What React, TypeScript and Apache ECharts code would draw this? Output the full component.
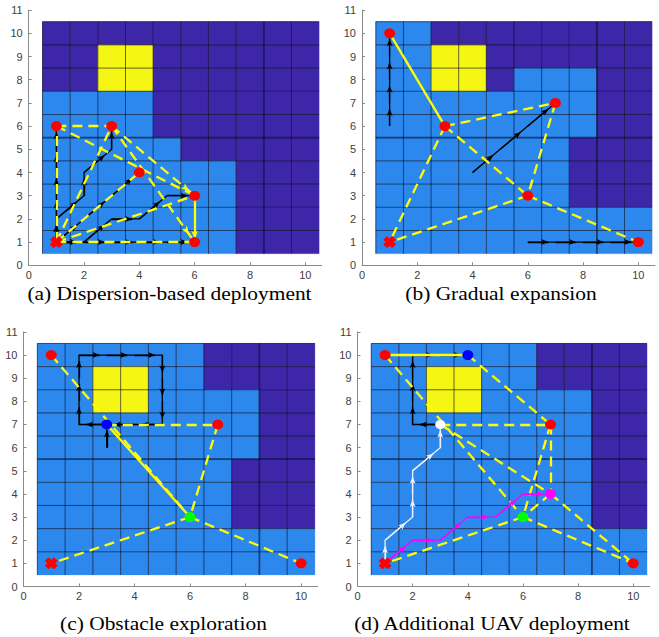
import React, { useEffect, useRef } from 'react';
import * as echarts from 'echarts';

// cell states: 0 = unexplored, 1 = explored, 2 = obstacle; rows from y=10 (top) down to y=1
const mapA = [
  [0, 0, 0, 0, 0, 0, 0, 0, 0, 0],
  [0, 0, 2, 2, 0, 0, 0, 0, 0, 0],
  [0, 0, 2, 2, 0, 0, 0, 0, 0, 0],
  [1, 1, 1, 1, 0, 0, 0, 0, 0, 0],
  [1, 1, 1, 1, 0, 0, 0, 0, 0, 0],
  [1, 1, 1, 1, 1, 0, 0, 0, 0, 0],
  [1, 1, 1, 1, 1, 1, 1, 0, 0, 0],
  [1, 1, 1, 1, 1, 1, 1, 0, 0, 0],
  [1, 1, 1, 1, 1, 1, 1, 0, 0, 0],
  [1, 1, 1, 1, 1, 1, 1, 0, 0, 0],
];
const mapB = [
  [1, 1, 0, 0, 0, 0, 0, 0, 0, 0],
  [1, 1, 2, 2, 0, 0, 0, 0, 0, 0],
  [1, 1, 2, 2, 0, 1, 1, 1, 0, 0],
  [1, 1, 1, 1, 1, 1, 1, 1, 0, 0],
  [1, 1, 1, 1, 1, 1, 1, 1, 0, 0],
  [1, 1, 1, 1, 1, 1, 1, 0, 0, 0],
  [1, 1, 1, 1, 1, 1, 1, 0, 0, 0],
  [1, 1, 1, 1, 1, 1, 1, 0, 0, 0],
  [1, 1, 1, 1, 1, 1, 1, 1, 1, 1],
  [1, 1, 1, 1, 1, 1, 1, 1, 1, 1],
];
const mapC = [
  [1, 1, 1, 1, 1, 1, 0, 0, 0, 0],
  [1, 1, 2, 2, 1, 1, 0, 0, 0, 0],
  [1, 1, 2, 2, 1, 1, 1, 1, 0, 0],
  [1, 1, 1, 1, 1, 1, 1, 1, 0, 0],
  [1, 1, 1, 1, 1, 1, 1, 1, 0, 0],
  [1, 1, 1, 1, 1, 1, 1, 0, 0, 0],
  [1, 1, 1, 1, 1, 1, 1, 0, 0, 0],
  [1, 1, 1, 1, 1, 1, 1, 0, 0, 0],
  [1, 1, 1, 1, 1, 1, 1, 1, 1, 1],
  [1, 1, 1, 1, 1, 1, 1, 1, 1, 1],
];
const mapD = [
  [1, 1, 1, 1, 1, 1, 0, 0, 0, 0],
  [1, 1, 2, 2, 1, 1, 0, 0, 0, 0],
  [1, 1, 2, 2, 1, 1, 1, 1, 0, 0],
  [1, 1, 1, 1, 1, 1, 1, 1, 0, 0],
  [1, 1, 1, 1, 1, 1, 1, 1, 0, 0],
  [1, 1, 1, 1, 1, 1, 1, 1, 0, 0],
  [1, 1, 1, 1, 1, 1, 1, 1, 0, 0],
  [1, 1, 1, 1, 1, 1, 1, 1, 0, 0],
  [1, 1, 1, 1, 1, 1, 1, 1, 1, 1],
  [1, 1, 1, 1, 1, 1, 1, 1, 1, 1],
];

// UAV positions
const baseA = [[1, 1]];
const redA = [[1, 6], [3, 6], [4, 4], [6, 3], [6, 1]];
const baseB = [[1, 1]];
const redB = [[1, 10], [3, 6], [7, 7], [6, 3], [10, 1]];
const baseC = [[1, 1]];
const redC = [[1, 10], [7, 7], [10, 1]];
const blueC = [[3, 7]];
const greenC = [[6, 3]];
const baseD = [[1, 1]];
const redD = [[1, 10], [7, 7], [10, 1]];
const blueD = [[4, 10]];
const whiteD = [[3, 7]];
const magentaD = [[7, 4]];
const greenD = [[6, 3]];

// communication links
const dashedA = [
  [[1, 1], [1, 6]], [[1, 1], [3, 6]], [[1, 1], [4, 4]], [[1, 1], [6, 3]], [[1, 1], [6, 1]],
  [[1, 6], [3, 6]], [[1, 6], [6, 3]], [[3, 6], [6, 3]], [[3, 6], [6, 1]],
];
const solidA = [[[6, 3], [6, 1]]];
const yArrowA = [[[3, 6], [6, 3]], [[3, 6], [6, 1]], [[6, 3], [6, 1]]];
const dashedB = [
  [[3, 6], [7, 7]], [[3, 6], [1, 1]], [[3, 6], [6, 3]], [[6, 3], [10, 1]], [[7, 7], [6, 3]], [[6, 3], [1, 1]],
];
const solidB = [[[1, 10], [3, 6]]];
const dashedC = [
  [[1, 10], [6, 3]], [[3, 7], [7, 7]], [[7, 7], [6, 3]], [[6, 3], [1, 1]], [[6, 3], [10, 1]],
];
const solidC = [[[3, 7], [6, 3]]];
const dashedD = [
  [[1, 10], [6, 3]], [[4, 10], [7, 7]], [[3, 7], [7, 7]], [[7, 7], [7, 4]], [[7, 7], [6, 3]],
  [[3, 7], [7, 4]], [[7, 4], [10, 1]], [[7, 4], [6, 3]], [[6, 3], [1, 1]], [[6, 3], [10, 1]],
];
const solidD = [[[1, 10], [4, 10]]];

// movement paths
const pathsA = [
  [[1, 1], [1, 2], [1, 3], [1, 4], [1, 5], [1, 6]],
  [[1, 1], [1, 2], [2, 3], [2, 4], [3, 5], [3, 6]],
  [[1, 1], [2, 2], [3, 3], [4, 4]],
  [[1, 1], [2, 1], [3, 2], [4, 2], [5, 3], [6, 3]],
  [[1, 1], [2, 1], [3, 1], [4, 1], [5, 1], [6, 1]],
];
const pathsB = [
  [[1, 6], [1, 7], [1, 8], [1, 9], [1, 10]],
  [[4, 4], [5, 5], [6, 6], [7, 7]],
  [[6, 1], [7, 1], [8, 1], [9, 1], [10, 1]],
];
const pathsC = [
  [[3, 6], [3, 7], [2, 7], [2, 8], [2, 9], [2, 10], [3, 10], [4, 10], [5, 10], [5, 9], [5, 8], [5, 7], [4, 7], [3, 7]],
];
const pathsD = [[[3, 7], [2, 7], [2, 8], [2, 9], [2, 10], [3, 10], [4, 10]]];
const whitePathD = [[1, 1], [1, 2], [2, 3], [2, 4], [2, 5], [3, 6], [3, 7]];
const magentaPathD = [[1, 1], [2, 2], [3, 2], [4, 3], [5, 3], [6, 4], [7, 4]];

const captions = [
  '(a) Dispersion-based deployment',
  '(b) Gradual expansion',
  '(c) Obstacle exploration',
  '(d) Additional UAV deployment',
];
const xTickValues = [0, 2, 4, 6, 8, 10];
const gridPositions = [0.5, 1.5, 2.5, 3.5, 4.5, 5.5, 6.5, 7.5, 8.5, 9.5, 10.5];

const CELL_COLORS = ['#3E26A8', '#2D88EE', '#F6F614'];
const YELLOW = '#FFFF00';
const X_PATH = 'path://M0,3 L3,0 L5,2 L7,0 L10,3 L8,5 L10,7 L7,10 L5,8 L3,10 L0,7 L2,5 Z';

const GRIDS = [
  { left: 28.7, top: 10.1, width: 293.2, height: 255.2 },
  { left: 362, top: 10.1, width: 292.9, height: 255.2 },
  { left: 23.5, top: 331.9, width: 294.2, height: 254.6 },
  { left: 357.5, top: 331.9, width: 292.3, height: 254.6 },
];
const CAPTION_POS = [
  [169.5, 294],
  [501, 294],
  [163.5, 624],
  [492, 624],
];

function cellData(map: number[][]) {
  const out: number[][] = [];
  map.forEach((row, r) => {
    row.forEach((v, c) => out.push([c + 1, 10 - r, v]));
  });
  return out;
}

function arrowSegs(path: number[][], f: number) {
  const out: any[] = [];
  for (let i = 0; i < path.length - 1; i++) {
    const p = path[i];
    const q = path[i + 1];
    out.push({ coords: [p, [p[0] + f * (q[0] - p[0]), p[1] + f * (q[1] - p[1])]] });
  }
  return out;
}

function panelSeries(i: number, p: any) {
  const ax = { xAxisIndex: i, yAxisIndex: i };
  const s: any[] = [];
  s.push({
    type: 'custom', ...ax, silent: true,
    data: cellData(p.map),
    encode: { x: 0, y: 1 },
    renderItem: (params: any, api: any) => {
      const x = api.value(0), y = api.value(1), v = api.value(2);
      const a = api.coord([x - 0.5, y + 0.5]);
      const b = api.coord([x + 0.5, y - 0.5]);
      return {
        type: 'rect',
        shape: { x: a[0], y: a[1], width: b[0] - a[0], height: b[1] - a[1] },
        style: { fill: CELL_COLORS[v], stroke: CELL_COLORS[v], lineWidth: 0.3 },
      };
    },
  });
  s.push({
    type: 'custom', ...ax, silent: true,
    data: gridPositions.map((k) => [k, k]),
    encode: { x: 0, y: 1 },
    renderItem: (params: any, api: any) => {
      const k = api.value(0);
      const v0 = api.coord([k, 0.5]), v1 = api.coord([k, 10.5]);
      const h0 = api.coord([0.5, k]), h1 = api.coord([10.5, k]);
      const children: any[] = [];
      if (k < 10.5) {
        children.push({
          type: 'line',
          shape: { x1: v0[0], y1: v0[1], x2: v1[0], y2: v1[1] },
          style: { stroke: 'rgba(5,10,30,0.62)', lineWidth: k === 8.5 ? 1.7 : 1 },
        });
      }
      if (k > 0.5) {
        children.push({
          type: 'line',
          shape: { x1: h0[0], y1: h0[1], x2: h1[0], y2: h1[1] },
          style: { stroke: 'rgba(5,10,30,0.62)', lineWidth: k === 5.5 ? 1.7 : 1 },
        });
      }
      return { type: 'group', children };
    },
  });
  const marker = (data: number[][], color: string, symbol = 'circle', size: any = [11, 10]) => ({
    type: 'scatter', ...ax, silent: true, data, symbol, symbolSize: size,
    itemStyle: { color, opacity: 1 },
  });
  s.push(marker(p.base, '#FF0000', X_PATH, [13, 12]));
  s.push(marker(p.red, '#FF0000'));
  (p.extra || []).forEach((e: any) => s.push(marker(e.data, e.color, 'circle', e.size || [11, 10])));

  const addPath = (pts: number[][], color: string) => {
    s.push({
      type: 'lines', ...ax, coordinateSystem: 'cartesian2d', polyline: true, silent: true,
      data: [{ coords: pts }], symbol: 'none',
      lineStyle: { color, width: 1.3, opacity: 1 },
    });
    s.push({
      type: 'lines', ...ax, coordinateSystem: 'cartesian2d', silent: true,
      data: arrowSegs(pts, 0.74), symbol: ['none', 'arrow'], symbolSize: [1, [4.5, 7]],
      lineStyle: { color, width: 1.3, opacity: 1 },
    });
  };
  p.paths.forEach((pts: number[][]) => addPath(pts, '#000000'));

  s.push({
    type: 'lines', ...ax, coordinateSystem: 'cartesian2d', silent: true,
    data: p.dashed.map((l: number[][]) => ({ coords: l })), symbol: 'none',
    lineStyle: { color: YELLOW, width: 2.3, type: [10, 6], opacity: 1 },
  });
  s.push({
    type: 'lines', ...ax, coordinateSystem: 'cartesian2d', silent: true,
    data: p.solid.map((l: number[][]) => ({ coords: l })), symbol: 'none',
    lineStyle: { color: YELLOW, width: 2.3, opacity: 1 },
  });
  if (p.yArrows) {
    s.push({
      type: 'lines', ...ax, coordinateSystem: 'cartesian2d', silent: true,
      data: p.yArrows.map((l: number[][]) => ({ coords: [
        [l[0][0] + 0.9 * (l[1][0] - l[0][0]), l[0][1] + 0.9 * (l[1][1] - l[0][1])],
        [l[0][0] + 0.93 * (l[1][0] - l[0][0]), l[0][1] + 0.93 * (l[1][1] - l[0][1])],
      ] })),
      symbol: ['none', 'arrow'], symbolSize: [1, [5, 8]],
      lineStyle: { color: YELLOW, width: 2, opacity: 1 },
    });
  }
  (p.colorPaths || []).forEach((cp: any) => addPath(cp.pts, cp.color));
  return s;
}

const panels = [
  { map: mapA, base: baseA, red: redA, dashed: dashedA, solid: solidA, yArrows: yArrowA, paths: pathsA },
  { map: mapB, base: baseB, red: redB, dashed: dashedB, solid: solidB, paths: pathsB },
  {
    map: mapC, base: baseC, red: redC, dashed: dashedC, solid: solidC, paths: pathsC,
    extra: [{ data: blueC, color: '#0000FF' }, { data: greenC, color: '#00FF00' }],
  },
  {
    map: mapD, base: baseD, red: redD, dashed: dashedD, solid: solidD, paths: pathsD,
    extra: [
      { data: blueD, color: '#0000FF' },
      { data: whiteD, color: '#FFFFFF', size: [10, 9] },
      { data: magentaD, color: '#FF00FF' },
      { data: greenD, color: '#00FF00' },
    ],
    colorPaths: [{ pts: whitePathD, color: '#EEF2FF' }, { pts: magentaPathD, color: '#FF00FF' }],
  },
];

export default function App() {
  const ref = useRef<HTMLDivElement>(null);
  useEffect(() => {
    if (!ref.current) return;
    const chart = echarts.init(ref.current, undefined, { renderer: 'svg' });
    const axisColor = '#8a8a8a';
    const labelStyle = { fontSize: 11, color: '#404040', fontFamily: '"Liberation Sans", Arial, sans-serif' };
    const option: any = {
      animation: false,
      backgroundColor: '#ffffff',
      grid: GRIDS.map((g) => ({ ...g, containLabel: false, outerBoundsMode: 'none' })),
      xAxis: GRIDS.map((g, i) => ({
        type: 'value', gridIndex: i, min: 0, max: 10.6, interval: 2,
        axisLine: { show: true, lineStyle: { color: axisColor, width: 1 } },
        axisTick: { show: true, inside: true, length: 3, customValues: xTickValues, lineStyle: { color: axisColor } },
        axisLabel: {
          ...labelStyle, margin: 4, customValues: xTickValues,
          formatter: (v: number) => (Number.isInteger(v) ? String(v) : ''),
        },
        splitLine: { show: false },
      })),
      yAxis: GRIDS.map((g, i) => ({
        type: 'value', gridIndex: i, min: 0, max: 11, interval: 1,
        axisLine: { show: true, lineStyle: { color: axisColor, width: 1 } },
        axisTick: { show: true, inside: true, length: 3, lineStyle: { color: axisColor } },
        axisLabel: { ...labelStyle, margin: 6 },
        splitLine: { show: false },
      })),
      series: panels.flatMap((p, i) => panelSeries(i, p)),
      graphic: captions.map((t, i) => ({
        type: 'text',
        x: CAPTION_POS[i][0],
        y: CAPTION_POS[i][1],
        scaleX: 1.19,
        style: {
          text: t,
          fontSize: 18,
          fontFamily: '"Liberation Serif", "Times New Roman", serif',
          fill: '#000000',
          textAlign: 'center',
          textVerticalAlign: 'middle',
        },
      })),
    };
    chart.setOption(option);
    return () => chart.dispose();
  }, []);
  return (
    <div
      ref={ref}
      style={{ position: 'absolute', left: 0, top: 0, width: 659, height: 637, background: '#fff' }}
    />
  );
}
